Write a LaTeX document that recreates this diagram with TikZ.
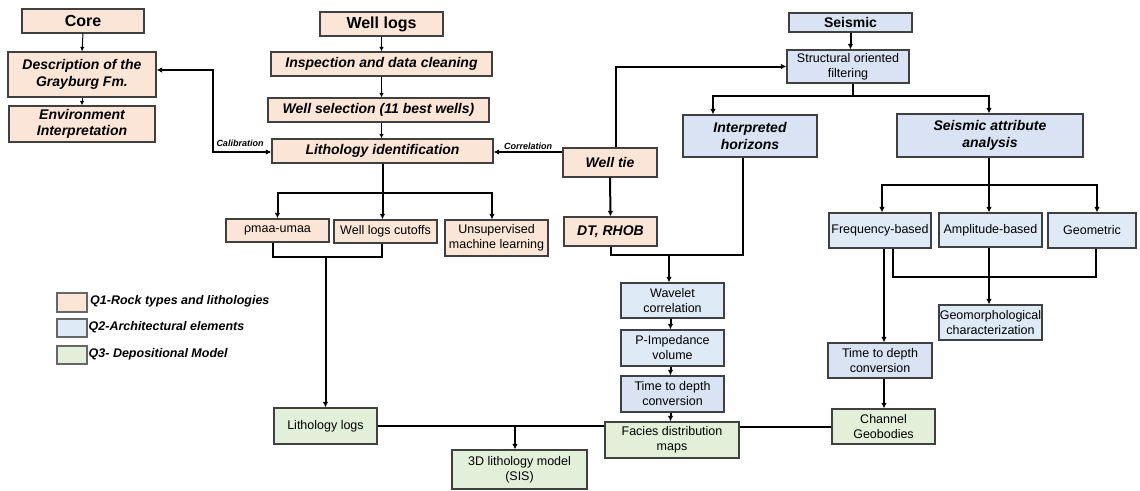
\documentclass[tikz,border=0pt]{standalone}
\usepackage{fontspec}
\setmainfont{Liberation Sans}
\usetikzlibrary{arrows.meta}
\definecolor{orgf}{HTML}{FBE5D6}
\definecolor{bluf}{HTML}{DEEBF7}
\definecolor{blug}{HTML}{DAE3F3}
\definecolor{grnf}{HTML}{E2F0D9}
\definecolor{boxc}{HTML}{404040}
\tikzset{
  box/.style={draw=boxc, line width=1.2pt, inner sep=0pt, align=center, text=black},
  org/.style={box, fill=orgf},
  blu/.style={box, fill=bluf},
  blg/.style={box, fill=blug},
  grn/.style={box, fill=grnf},
  bih/.style={font=\fontsize{16}{19}\selectfont\bfseries},
  bi/.style={font=\fontsize{14}{16.7}\selectfont\bfseries\itshape},
  rg/.style={font=\fontsize{12.5}{15}\selectfont},
  lbl/.style={font=\fontsize{9}{11}\selectfont\bfseries\itshape, inner sep=0pt},
  legt/.style={font=\fontsize{12.5}{15}\selectfont\bfseries\itshape, inner sep=0pt, anchor=west},
  conn/.style={line width=2pt, draw=black},
  thinconn/.style={line width=1pt, draw=black},
  arr/.style={-{Latex[length=5.5pt,width=5.5pt]}},
  tarr/.style={-{Latex[length=4.5pt,width=4.5pt]}},
  barr/.style={{Latex[length=5.5pt,width=5.5pt]}-{Latex[length=5.5pt,width=5.5pt]}},
}
\begin{document}
\begin{tikzpicture}[x=1pt,y=-1pt]
\useasboundingbox[fill=white] (0,0) rectangle (1140,490);
% Core column
\node[org,bih,minimum width=122pt,minimum height=24pt] (core) at (83,21) {Core};
\node[org,bi,minimum width=148pt,minimum height=45pt] (desc) at (82,74.5) {Description of the\\Grayburg Fm.};
\node[org,bi,minimum width=146pt,minimum height=36pt] (env) at (82,124) {Environment\\Interpretation};
% Well logs column
\node[org,bih,minimum width=123pt,minimum height=24pt] (welllogs) at (381.5,24) {Well logs};
\node[org,bi,minimum width=221pt,minimum height=24pt] (insp) at (381.5,64) {Inspection and data cleaning};
\node[org,bi,minimum width=221pt,minimum height=24pt] (sel) at (378.5,110) {Well selection (11 best wells)};
\node[org,bi,minimum width=221pt,minimum height=24pt] (litho) at (382.5,151) {Lithology identification};
\node[org,rg,minimum width=103pt,minimum height=23pt] (pmaa) at (277.5,230.5) {ρmaa-umaa};
\node[org,rg,minimum width=103pt,minimum height=23pt] (cutoffs) at (385.5,231.5) {Well logs cutoffs};
\node[org,rg,minimum width=103pt,minimum height=36pt] (unsup) at (496.5,238) {Unsupervised\\machine learning};
% Well tie
\node[org,bi,minimum width=94pt,minimum height=29pt] (welltie) at (610,162.5) {Well tie};
\node[org,bi,minimum width=93pt,minimum height=29pt] (dtrhob) at (610.5,231.5) {DT, RHOB};
% Seismic
\node[blg,font=\fontsize{14}{16.7}\selectfont\bfseries,minimum width=123pt,minimum height=19pt] (seismic) at (850.5,22.5) {Seismic};
\node[blg,rg,minimum width=122pt,minimum height=33pt] (sof) at (848,66.5) {Structural oriented\\filtering};
\node[blg,bi,minimum width=134pt,minimum height=42pt] (interp) at (750,136) {Interpreted\\horizons};
\node[blg,bi,minimum width=186pt,minimum height=43pt] (saa) at (990,135.5) {Seismic attribute\\analysis};
\node[blu,rg,minimum width=102pt,minimum height=35pt] (freq) at (880,230.5) {Frequency-based};
\node[blu,rg,minimum width=103pt,minimum height=34pt] (ampl) at (990.5,230) {Amplitude-based};
\node[blu,rg,minimum width=88pt,minimum height=35pt] (geom) at (1092,230.5) {Geometric};
\node[blu,rg,minimum width=103pt,minimum height=35pt] (geomorph) at (990.5,322.5) {Geomorphological\\characterization};
\node[blg,rg,minimum width=104pt,minimum height=35pt] (t2d2) at (880,360.5) {Time to depth\\conversion};
\node[blu,rg,minimum width=103pt,minimum height=35pt] (wavelet) at (672.5,300.5) {Wavelet\\correlation};
\node[blu,rg,minimum width=103pt,minimum height=36pt] (pimp) at (672.5,348) {P-Impedance\\volume};
\node[blg,rg,minimum width=103pt,minimum height=36pt] (t2d1) at (672.5,394) {Time to depth\\conversion};
% Green
\node[grn,rg,minimum width=134pt,minimum height=36pt] (facies) at (672,440) {Facies distribution\\maps};
\node[grn,rg,minimum width=103pt,minimum height=35pt] (channel) at (883.5,426.5) {Channel\\Geobodies};
\node[grn,rg,minimum width=103pt,minimum height=36pt] (lithologs) at (325.5,426) {Lithology logs};
\node[grn,rg,minimum width=135pt,minimum height=39pt] (model3d) at (519.5,469.5) {3D lithology model\\(SIS)};
% Legend
\node[org,minimum width=30pt,minimum height=19pt,draw=gray!80!black,line width=1.4pt] (leg1) at (72,302.5) {};
\node[blu,minimum width=30pt,minimum height=18pt,draw=gray!80!black,line width=1.4pt] (leg2) at (72,328) {};
\node[grn,minimum width=30pt,minimum height=18pt,draw=gray!80!black,line width=1.4pt] (leg3) at (72,355) {};
\node[legt] (legt1) at (90,301) {Q1-Rock types and lithologies};
\node[legt] (legt2) at (88.5,327) {Q2-Architectural elements};
\node[legt] (legt3) at (88.5,354) {Q3- Depositional Model};
% Labels
\node[lbl] (calib) at (240,143) {Calibration};
\node[lbl] (corr) at (528,146) {Correlation};
% Thin arrows
\draw[thinconn,tarr] (core.south) -- (desc.north);
\draw[thinconn,tarr] (desc.south) -- (env.north);
\draw[thinconn,tarr] (welllogs.south) -- (welllogs.south |- insp.north);
\draw[thinconn,tarr] (welllogs.south |- insp.south) -- (welllogs.south |- sel.north);
\draw[thinconn,tarr] (welllogs.south |- sel.south) -- (welllogs.south |- litho.north);
% Calibration & correlation
\coordinate (cal) at (213,152);
\draw[conn,barr] ([yshift=4.5pt]desc.east) -| (cal) -- (cal -| litho.west);
\draw[conn,arr] ([yshift=10.5pt]welltie.west) -- ([yshift=10.5pt]welltie.west -| litho.east);
% Lithology branches
\coordinate (b1) at (382.5,193);
\draw[conn,arr] (litho.south) -- (b1) -| (pmaa.north);
\draw[conn,arr] (b1) -| ([xshift=-4.5pt]unsup.north);
\draw[conn,arr] (b1) -- (b1 |- cutoffs.north);
\coordinate (m1) at (325.5,257);
\draw[conn] ([xshift=-4.5pt]pmaa.south) |- ([xshift=-3.5pt]cutoffs.south |- m1) -- ([xshift=-3.5pt]cutoffs.south);
\draw[conn,arr] (m1) -- (lithologs.north);
% Well tie
\draw[conn,arr] ([xshift=6pt]welltie.north) |- (sof.west);
\draw[conn,arr] (welltie.south) -- (dtrhob.north);
\coordinate (m2) at (669,255);
\draw[conn] (dtrhob.south) |- ([xshift=-7pt]interp.south |- m2) -- ([xshift=-7pt]interp.south);
\draw[conn,arr] (m2) -- (m2 |- wavelet.north);
\draw[conn,arr] ([xshift=-2pt]wavelet.south) -- ([xshift=-2pt]pimp.north);
\draw[conn,arr] ([xshift=-2pt]pimp.south) -- ([xshift=-2pt]t2d1.north);
\draw[conn,arr] ([xshift=-2pt]t2d1.south) -- ([xshift=-2pt]t2d1.south |- facies.north);
% Seismic
\draw[conn,arr] (seismic.south) -- (seismic.south |- sof.north);
\coordinate (b2) at (853,96);
\draw[conn] (sof.south -| b2) -- (b2);
\draw[conn,arr] (b2) -| ([xshift=-37pt]interp.north);
\draw[conn,arr] (b2) -| ([xshift=-1pt]saa.north);
\coordinate (b3) at (989,185);
\draw[conn] (b3 |- saa.south) -- (b3);
\draw[conn,arr] (b3) -| ([xshift=2pt]freq.north);
\draw[conn,arr] (b3) -| ([xshift=5pt]geom.north);
\draw[conn,arr] (b3) -- (b3 |- ampl.north);
\draw[conn,arr] ([xshift=4pt]freq.south) -- ([xshift=4pt]t2d2.north);
\coordinate (m3) at (989,277);
\draw[conn] ([xshift=13pt]freq.south) |- (m3) -| ([xshift=4pt]geom.south);
\draw[conn,arr] (m3 |- ampl.south) -- (m3 |- geomorph.north);
\draw[conn,arr] ([xshift=4pt]t2d2.south) -- ([xshift=4pt]t2d2.south |- channel.north);
% Bottom
\draw[conn] (channel.west) -- (channel.west -| facies.east);
\draw[conn] (lithologs.east) -- (lithologs.east -| facies.west);
\draw[conn,arr] (lithologs.east -| model3d.north) ++(-4.5pt,0) -- ([xshift=-4.5pt]model3d.north);
\end{tikzpicture}
\end{document}
